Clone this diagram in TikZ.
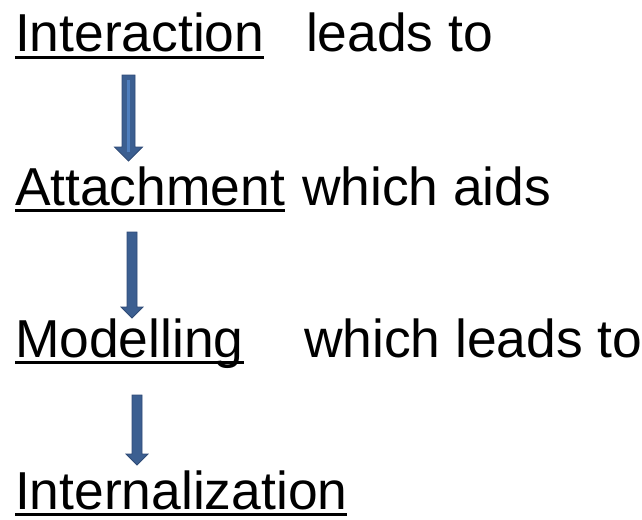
\documentclass[tikz,border=0pt]{standalone}
\usepackage{fontspec}
\setmainfont{Liberation Sans}
\definecolor{arrowfill}{HTML}{3C5F91}
\definecolor{arrowedge}{HTML}{2F4B76}
\definecolor{arrowlight}{HTML}{4E7EBE}
\begin{document}
\begin{tikzpicture}[x=1pt,y=-1pt,
  word/.style={inner sep=0pt,outer sep=0pt,anchor=base west,
    font=\fontsize{53.4}{60}\selectfont},
  uline/.style={line width=3.5pt},
  blockarrow/.style={fill=arrowfill,draw=arrowedge,line width=0.8pt,line join=miter}]
\useasboundingbox (0,0) rectangle (642,519);

% text lines
\node[word] (w1) at (15,52) {Interaction};
\node[word] (t1) at (306,52) {leads to};
\node[word] (w2) at (15,205) {Attachment};
\node[word] (t2) at (302,205) {which aids};
\node[word] (w3) at (15,357) {Modelling};
\node[word] (t3) at (304,357) {which leads to};
\node[word] (w4) at (15,509) {Internalization};

% underlines of the key words
\foreach \n in {w1,w2,w3,w4}
  \draw[uline] ([yshift=-5.5pt]\n.base west) -- ([yshift=-5.5pt]\n.base east);

% block arrows between the lines
% #1 centre x, #2 top, #3 head base, #4 tip, #5 half shaft, #6 half head
\newcommand{\blockarr}[6]{%
  \draw[blockarrow] (#1-#5,#2) -- (#1+#5,#2) -- (#1+#5,#3) -- (#1+#6,#3)
    -- (#1,#4) -- (#1-#6,#3) -- (#1-#5,#3) -- cycle;}
\blockarr{128.5}{75}{147}{161}{6.5}{14}
\fill[arrowlight] (127.3,80) rectangle (129.7,152);
\blockarr{132}{232}{307}{318}{5}{11}
\blockarr{137}{395}{454}{465}{5}{11}
\end{tikzpicture}
\end{document}
